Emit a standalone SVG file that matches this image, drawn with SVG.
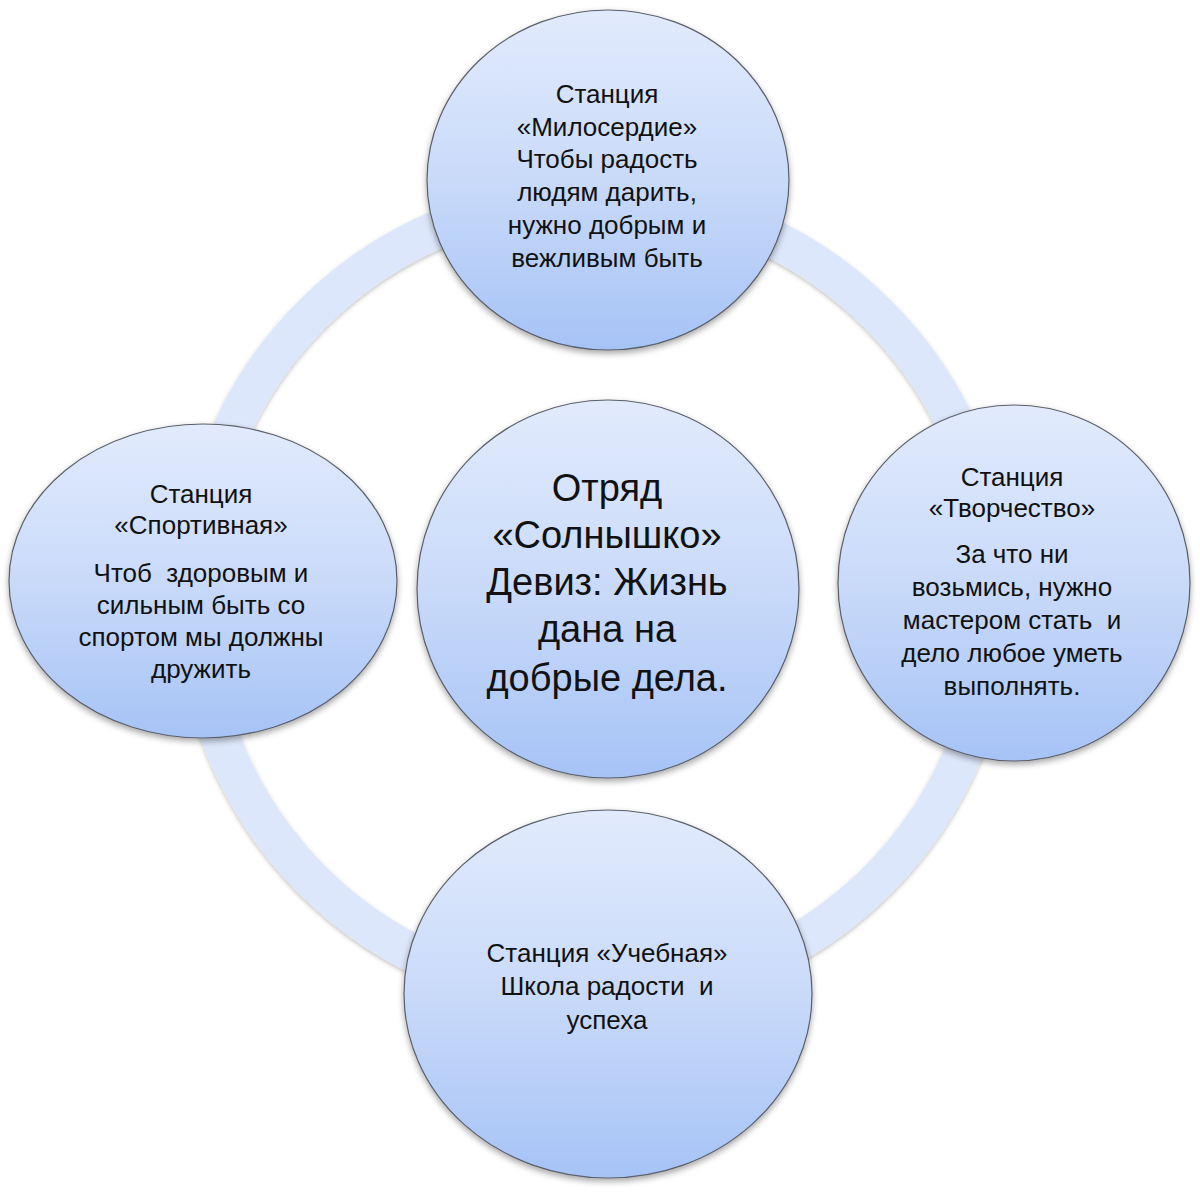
<svg xmlns="http://www.w3.org/2000/svg" width="1200" height="1194" viewBox="0 0 1200 1194">
<defs>
<linearGradient id="nodeFill" x1="0" y1="0" x2="0" y2="1">
<stop offset="0" stop-color="#e2ebfd"/>
<stop offset="0.5" stop-color="#c9daf9"/>
<stop offset="1" stop-color="#a6c3f6"/>
</linearGradient>
<filter id="shadow" x="-10%" y="-10%" width="120%" height="125%">
<feDropShadow dx="0" dy="3" stdDeviation="3" flood-color="#000" flood-opacity="0.35"/>
</filter>
<filter id="ringShadow" x="-10%" y="-10%" width="120%" height="120%">
<feDropShadow dx="0" dy="2" stdDeviation="2" flood-color="#000" flood-opacity="0.25"/>
</filter>
</defs>
<style>
.node{fill:url(#nodeFill);stroke:#5a5f6a;stroke-width:1.2;filter:url(#shadow)}
.t{font-family:"Liberation Sans","Noto Sans",sans-serif;font-size:26px;fill:#111;text-anchor:middle}
.big{font-size:38px}
.ring{fill:none;stroke:#dde7fb;stroke-width:38;filter:url(#ringShadow)}
</style>
<rect width="1200" height="1194" fill="#fff"/>
<g id="connectors">
<circle class="ring" cx="595" cy="597" r="400"/>
</g>
<g id="node-top">
<ellipse class="node" cx="608" cy="180" rx="181" ry="170"/>
<text class="t" x="607" y="103">Станция</text>
<text class="t" x="607" y="136">«Милосердие»</text>
<text class="t" x="607" y="168">Чтобы радость</text>
<text class="t" x="607" y="201">людям дарить,</text>
<text class="t" x="607" y="234">нужно добрым и</text>
<text class="t" x="607" y="267">вежливым быть</text>
</g>
<g id="node-left">
<ellipse class="node" cx="203" cy="581" rx="194" ry="157"/>
<text class="t" x="201" y="503">Станция</text>
<text class="t" x="201" y="534">«Спортивная»</text>
<text class="t" x="201" y="582" xml:space="preserve">Чтоб  здоровым и</text>
<text class="t" x="201" y="614">сильным быть со</text>
<text class="t" x="201" y="646">спортом мы должны</text>
<text class="t" x="201" y="678">дружить</text>
</g>
<g id="node-right">
<ellipse class="node" cx="1014" cy="583" rx="176" ry="178"/>
<text class="t" x="1012" y="486">Станция</text>
<text class="t" x="1012" y="517">«Творчество»</text>
<text class="t" x="1012" y="563">За что ни</text>
<text class="t" x="1012" y="596">возьмись, нужно</text>
<text class="t" x="1012" y="629" xml:space="preserve">мастером стать  и</text>
<text class="t" x="1012" y="662">дело любое уметь</text>
<text class="t" x="1012" y="695">выполнять.</text>
</g>
<g id="node-bottom">
<ellipse class="node" cx="608" cy="994" rx="204" ry="184"/>
<text class="t" x="607" y="962">Станция «Учебная»</text>
<text class="t" x="607" y="995" xml:space="preserve">Школа радости  и</text>
<text class="t" x="607" y="1029">успеха</text>
</g>
<g id="node-center">
<ellipse class="node" cx="608" cy="589" rx="191" ry="189"/>
<text class="t big" x="607" y="501">Отряд</text>
<text class="t big" x="607" y="548">«Солнышко»</text>
<text class="t big" x="607" y="595">Девиз: Жизнь</text>
<text class="t big" x="607" y="642">дана на</text>
<text class="t big" x="607" y="691">добрые дела.</text>
</g>
</svg>
